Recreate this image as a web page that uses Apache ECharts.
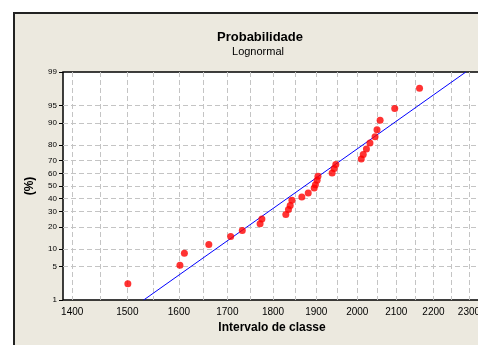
<!DOCTYPE html>
<html>
<head>
<meta charset="utf-8">
<title>Probabilidade - Lognormal</title>
<script src="https://cdn.jsdelivr.net/npm/echarts@6/dist/echarts.min.js"></script>
<style>
  html, body { margin: 0; padding: 0; background: #fff; overflow: hidden; }
  #frame {
    position: absolute; left: 13px; top: 12px; width: 600px; height: 400px;
    background: #ECE9DF; border-left: 2px solid #222; border-top: 2px solid #222;
  }
  /* the plot runs past the right edge of the window, as in the original */
  #chart { position: absolute; left: 0; top: 0; width: 520px; height: 345px; }
</style>
</head>
<body>
<div id="frame"></div>
<div id="chart"></div>
<script>
// pontos (valor da classe, % acumulado)
var classValues = [1501, 1602, 1611, 1661, 1707, 1732, 1771, 1775, 1829, 1835,
  1839, 1843, 1866, 1881, 1895, 1898, 1902, 1904, 1938, 1943,
  1947, 2010, 2015, 2023, 2032, 2045, 2050, 2058, 2096, 2162]
var cumPercent = [2.3, 5.3, 8.5, 11.6, 15.1, 18.2, 22.0, 25.1, 28.0, 31.5,
  34.5, 38.5, 41.2, 44.4, 48.4, 51.1, 54.6, 57.8, 60.5, 63.9,
  66.9, 71.0, 73.9, 77.5, 81.0, 84.2, 87.5, 91.0, 94.3, 97.7]
// reta ajustada (extremos)
var fitX = [1531, 2291]
var fitPercent = [1, 99]

var xTickValues = [1400, 1450, 1500, 1550, 1600, 1650, 1700, 1750, 1800, 1850,
  1900, 1950, 2000, 2050, 2100, 2150, 2200, 2250, 2300, 2350]
var xLabelValues = [1400, 1500, 1600, 1700, 1800, 1900, 2000, 2100, 2200, 2300]
var yTickValues = [1, 5, 10, 20, 30, 40, 50, 60, 70, 80, 90, 95, 99]
var xMin = 1384
var xMax = 2400

// escala de probabilidade normal
function normInv(p) {
  var a = [-3.969683028665376e+01, 2.209460984245205e+02, -2.759285104469687e+02, 1.383577518672690e+02, -3.066479806614716e+01, 2.506628277459239e+00]
  var b = [-5.447609879822406e+01, 1.615858368580409e+02, -1.556989798598866e+02, 6.680131188771972e+01, -1.328068155288572e+01]
  var c = [-7.784894002430293e-03, -3.223964580411365e-01, -2.400758277161838e+00, -2.549732539343734e+00, 4.374664141464968e+00, 2.938163982698783e+00]
  var d = [7.784695709041462e-03, 3.224671290700398e-01, 2.445134137142996e+00, 3.754408661907416e+00]
  var pl = 0.02425, q, r
  if (p < pl) {
    q = Math.sqrt(-2 * Math.log(p))
    return (((((c[0]*q+c[1])*q+c[2])*q+c[3])*q+c[4])*q+c[5]) / ((((d[0]*q+d[1])*q+d[2])*q+d[3])*q+1)
  }
  if (p > 1 - pl) {
    q = Math.sqrt(-2 * Math.log(1 - p))
    return -(((((c[0]*q+c[1])*q+c[2])*q+c[3])*q+c[4])*q+c[5]) / ((((d[0]*q+d[1])*q+d[2])*q+d[3])*q+1)
  }
  q = p - 0.5
  r = q * q
  return (((((a[0]*r+a[1])*r+a[2])*r+a[3])*r+a[4])*r+a[5])*q / (((((b[0]*r+b[1])*r+b[2])*r+b[3])*r+b[4])*r+1)
}

var yTickZ = yTickValues.map(function (p) { return normInv(p / 100) })

function yLabel(v) {
  var best = 0
  for (var i = 1; i < yTickZ.length; i++) {
    if (Math.abs(yTickZ[i] - v) < Math.abs(yTickZ[best] - v)) best = i
  }
  return String(yTickValues[best])
}

var points = classValues.map(function (v, i) {
  return [Math.log(v), normInv(cumPercent[i] / 100)]
})
var fitLine = fitX.map(function (v, i) {
  return [Math.log(v), normInv(fitPercent[i] / 100)]
})

var gridLine = { color: '#C4C4C4', type: [5, 3], width: 1 }
var font = 'Liberation Sans'

var chart = echarts.init(document.getElementById('chart'))
chart.setOption({
  animation: false,
  textStyle: { fontFamily: font },
  graphic: [
    { type: 'text', x: 260, y: 37, style: { text: 'Probabilidade', font: 'bold 13px ' + font, fill: '#000', align: 'center', verticalAlign: 'middle' } },
    { type: 'text', x: 258, y: 52, style: { text: 'Lognormal', font: '11px ' + font, fill: '#000', align: 'center', verticalAlign: 'middle' } },
    { type: 'text', x: 272, y: 328, style: { text: 'Intervalo de classe', font: 'bold 12px ' + font, fill: '#000', align: 'center', verticalAlign: 'middle' } }
  ],
  grid: {
    left: 63, top: 72, right: 17, bottom: 45,
    show: true, backgroundColor: '#fff', borderColor: '#000', borderWidth: 1.5
  },
  xAxis: {
    type: 'value',
    min: Math.log(xMin),
    max: Math.log(xMax),
    axisLine: { show: false },
    axisTick: { show: false, customValues: xTickValues.map(Math.log) },
    axisLabel: {
      customValues: xLabelValues.map(Math.log),
      formatter: function (v) { return String(Math.round(Math.exp(v))) },
      fontSize: 10, color: '#000', margin: 7
    },
    splitLine: { show: true, lineStyle: gridLine }
  },
  yAxis: {
    type: 'value',
    min: yTickZ[0],
    max: yTickZ[yTickZ.length - 1],
    name: '(%)',
    nameLocation: 'middle',
    nameGap: 27,
    nameRotate: 90,
    nameTextStyle: { fontSize: 12, fontWeight: 'bold', color: '#000' },
    axisLine: { show: false },
    axisTick: { show: true, inside: false, length: 4, customValues: yTickZ, lineStyle: { color: '#000' } },
    axisLabel: {
      customValues: yTickZ,
      formatter: yLabel,
      fontSize: 8, color: '#000', margin: 6,
      showMinLabel: true, showMaxLabel: true
    },
    splitLine: { show: true, showMinLine: false, showMaxLine: false, lineStyle: gridLine }
  },
  series: [
    {
      type: 'line',
      data: fitLine,
      showSymbol: false,
      clip: true,
      lineStyle: { color: '#0000FF', width: 1 },
      z: 2
    },
    {
      type: 'scatter',
      data: points,
      symbolSize: 7,
      itemStyle: { color: '#FF0000' },
      z: 3
    }
  ]
})
</script>
</body>
</html>
